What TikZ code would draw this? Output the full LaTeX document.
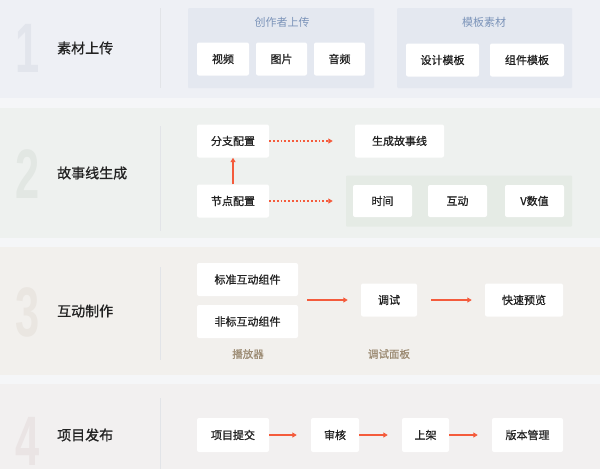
\documentclass[tikz,border=0pt]{standalone}
\usepackage{fontspec}
\usepackage{xcolor}
\usetikzlibrary{arrows.meta}
\newfontfamily\cjk{Noto Sans CJK SC}[FakeBold=0.9]
\newfontfamily\cjklight{Noto Sans CJK SC}
\newfontfamily\numfont{Liberation Sans}

\definecolor{gapc}{HTML}{F5F6F8}
\definecolor{bandA}{HTML}{EEF0F5}
\definecolor{bandB}{HTML}{EEF1EF}
\definecolor{bandC}{HTML}{F2F0ED}
\definecolor{bandD}{HTML}{F2F0F0}
\definecolor{grpA}{HTML}{E4E8F0}
\definecolor{grpB}{HTML}{E5EBE5}
\definecolor{numA}{HTML}{E2E5EC}
\definecolor{numB}{HTML}{E2E7E3}
\definecolor{numC}{HTML}{EAE6E1}
\definecolor{numD}{HTML}{EAE4E4}
\definecolor{grptext}{HTML}{7B93B9}
\definecolor{subtext}{HTML}{9C8B73}
\definecolor{textc}{HTML}{222222}
\definecolor{dividerc}{HTML}{E2E4E8}
\definecolor{arrowc}{HTML}{F45B3C}

\tikzset{
  box/.style={fill=white, rounded corners=2pt, minimum height=33pt, inner sep=0pt,
    font=\cjk\fontsize{11}{13}\selectfont, text=textc},
  grp/.style={inner sep=0pt, rounded corners=1pt},
  grptitle/.style={font=\cjklight\fontsize{11}{13}\selectfont, text=grptext},
  subtitle/.style={font=\cjk\fontsize{10.5}{12}\selectfont, text=subtext},
  stagetitle/.style={anchor=west, inner sep=0pt, font=\cjk\fontsize{14}{16}\selectfont, text=textc},
  bignum/.style={anchor=base west, inner sep=0pt, font=\numfont\bfseries\fontsize{70}{70}\selectfont},
  divider/.style={draw=dividerc, line width=0.8pt},
  flow/.style={draw=arrowc, line width=1.3pt, -{Triangle[length=4.5pt,width=5pt]}},
  dotflow/.style={flow, dash pattern=on 1.8pt off 2pt},
}

\begin{document}
\begin{tikzpicture}[x=1pt, y=-1pt]
  \useasboundingbox (0,0) rectangle (600,469);
  \fill[gapc] (0,0) rectangle (600,469);

  % bands
  \fill[bandA] (0,0) rectangle (600,98);
  \fill[bandB] (0,108) rectangle (600,238);
  \fill[bandC] (0,247) rectangle (600,375);
  \fill[bandD] (0,384) rectangle (600,469);

  % numbers, titles and dividers
  \node[bignum, text=numA] (n1) at (15,72) {\scalebox{0.62}[1]{1}};
  \node[bignum, text=numB] (n2) at (15,198) {\scalebox{0.62}[1]{2}};
  \node[bignum, text=numC] (n3) at (15,336) {\scalebox{0.62}[1]{3}};
  \node[bignum, text=numD] (n4) at (15,465) {\scalebox{0.62}[1]{4}};

  \node[stagetitle] (s1) at (57,48) {素材上传};
  \node[stagetitle] (s2) at (57,173) {故事线生成};
  \node[stagetitle] (s3) at (57,311) {互动制作};
  \node[stagetitle] (s4) at (57,435) {项目发布};

  \draw[divider] (160,8) -- (160,88);
  \draw[divider] (160,126) -- (160,231);
  \draw[divider] (160,267) -- (160,360);
  \draw[divider] (160,398) -- (160,469);

  % stage 1
  \node[grp, fill=grpA, minimum width=186pt, minimum height=80pt] (upload) at (281,48) {};
  \node[grp, fill=grpA, minimum width=175pt, minimum height=80pt] (template) at (484.5,48) {};
  \node[grptitle] (uploadt) at (282,22) {创作者上传};
  \node[grptitle] (templatet) at (484,22) {模板素材};

  \node[box, minimum width=52pt] (video) at (223,59) {视频};
  \node[box, minimum width=51pt] (image) at (281.5,59) {图片};
  \node[box, minimum width=51pt] (audio) at (339.5,59) {音频};
  \node[box, minimum width=73pt] (design) at (442.5,60) {设计模板};
  \node[box, minimum width=74pt] (widget) at (527,60) {组件模板};

  % stage 2
  \node[grp, fill=grpB, minimum width=226pt, minimum height=51pt] (attrs) at (459,201) {};
  \node[box, minimum width=72pt] (branch) at (233,141) {分支配置};
  \node[box, minimum width=72pt] (point) at (233,201) {节点配置};
  \node[box, minimum width=89pt] (story) at (399.5,141) {生成故事线};
  \node[box, minimum width=59pt, minimum height=32pt] (time) at (382.5,201) {时间};
  \node[box, minimum width=59pt, minimum height=32pt] (interact) at (457.5,201) {互动};
  \node[box, minimum width=59pt, minimum height=32pt] (vvalue) at (534.5,201) {V数值};

  \draw[flow] (point) -- (branch);
  \draw[dotflow, shorten >=22pt] (branch) -- (story);
  \draw[dotflow, shorten >=13pt] (point) -- (attrs);

  % stage 3
  \node[box, minimum width=101pt] (std) at (247.5,279.5) {标准互动组件};
  \node[box, minimum width=101pt] (nonstd) at (247.5,321.5) {非标互动组件};
  \node[box, minimum width=56pt] (debug) at (389,300) {调试};
  \node[box, minimum width=78pt] (preview) at (524,300) {快速预览};
  \node[subtitle] (player) at (248,354) {播放器};
  \node[subtitle] (panel) at (389,354) {调试面板};

  \coordinate (comp) at (298,300);
  \draw[flow, shorten <=9pt, shorten >=13pt] (comp) -- (debug);
  \draw[flow, shorten <=14pt, shorten >=13pt] (debug) -- (preview);

  % stage 4
  \node[box, minimum width=72pt, minimum height=34pt] (submit) at (233,435) {项目提交};
  \node[box, minimum width=48pt, minimum height=34pt] (review) at (335,435) {审核};
  \node[box, minimum width=47pt, minimum height=34pt] (shelf) at (425.5,435) {上架};
  \node[box, minimum width=71pt, minimum height=34pt] (version) at (527.5,435) {版本管理};

  \foreach \a/\b in {submit/review, review/shelf, shelf/version}
    \draw[flow, shorten >=14pt] (\a) -- (\b);
\end{tikzpicture}
\end{document}
